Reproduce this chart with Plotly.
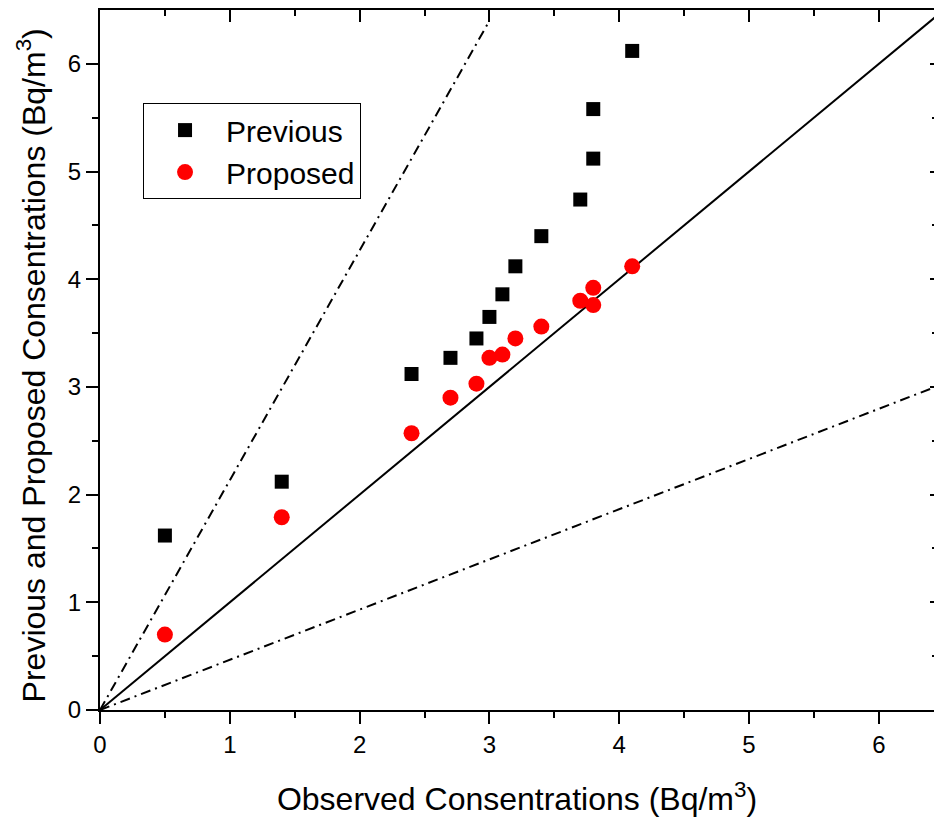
import plotly.graph_objects as go

# Data
observed = [0.5, 1.4, 2.4, 2.7, 2.9, 3.0, 3.1, 3.2, 3.4, 3.7, 3.8, 3.8, 4.1]
previous = [1.62, 2.12, 3.12, 3.27, 3.45, 3.65, 3.86, 4.12, 4.40, 4.74, 5.12, 5.58, 6.12]
observed_p = [0.5, 1.4, 2.4, 2.7, 2.9, 3.0, 3.1, 3.2, 3.4, 3.7, 3.8, 3.8, 4.1]
proposed = [0.70, 1.79, 2.57, 2.90, 3.03, 3.27, 3.30, 3.45, 3.56, 3.80, 3.92, 3.76, 4.12]

# Reference lines (1:1 and the two factor bounds)
line_one_x = [0, 6.5]
line_one_y = [0, 6.5]
line_up_x = [0, 3.0]
line_up_y = [0, 6.4]
line_low_x = [0, 6.5]
line_low_y = [0, 3.03]

X_TITLE = "Observed Consentrations (Bq/m<sup>3</sup>)"
Y_TITLE = "Previous and Proposed Consentrations (Bq/m<sup>3</sup>)"

FONT = "Liberation Sans, Arial, sans-serif"
DASHDOT = "10px,5px,2px,5px"

fig = go.Figure()
fig.add_trace(go.Scatter(x=line_one_x, y=line_one_y, mode="lines",
                         line=dict(color="black", width=2), showlegend=False, hoverinfo="skip"))
fig.add_trace(go.Scatter(x=line_up_x, y=line_up_y, mode="lines",
                         line=dict(color="black", width=2, dash=DASHDOT), showlegend=False, hoverinfo="skip"))
fig.add_trace(go.Scatter(x=line_low_x, y=line_low_y, mode="lines",
                         line=dict(color="black", width=2, dash=DASHDOT), showlegend=False, hoverinfo="skip"))
fig.add_trace(go.Scatter(x=observed, y=previous, mode="markers", name="Previous",
                         marker=dict(symbol="square", size=14, color="black")))
fig.add_trace(go.Scatter(x=observed_p, y=proposed, mode="markers", name="Proposed",
                         marker=dict(symbol="circle", size=16, color="red")))
# invisible trace to activate the mirror axes
fig.add_trace(go.Scatter(x=[0], y=[0], xaxis="x2", yaxis="y2", mode="markers",
                         marker=dict(opacity=0), showlegend=False, hoverinfo="skip"))

tick_font = dict(family=FONT, size=24, color="black")
XR = [0, 6.425]
YR = [0, 6.5]
MAJ = [0, 1, 2, 3, 4, 5, 6]
MIN = [0.5, 1.5, 2.5, 3.5, 4.5, 5.5]

fig.update_layout(
    width=934, height=823,
    margin=dict(l=100, r=0, t=10, b=113),
    paper_bgcolor="white", plot_bgcolor="white",
    font=dict(family=FONT, color="black"),
    xaxis=dict(range=XR, tickmode="array", tickvals=MAJ,
               ticks="outside", ticklen=12, tickwidth=2, tickcolor="black",
               minor=dict(tickvals=MIN, ticks="outside", ticklen=6,
                          tickwidth=2, tickcolor="black", showgrid=False),
               showline=True, linewidth=2, linecolor="black", showgrid=False, zeroline=False,
               tickfont=tick_font,
               title=dict(text=X_TITLE,
                          font=dict(family=FONT, size=32, color="black"), standoff=31)),
    yaxis=dict(range=YR, tickmode="array", tickvals=MAJ,
               ticks="outside", ticklen=12, tickwidth=2, tickcolor="black",
               minor=dict(tickvals=MIN, ticks="outside", ticklen=6,
                          tickwidth=2, tickcolor="black", showgrid=False),
               showline=True, linewidth=2, linecolor="black", showgrid=False, zeroline=False,
               tickfont=tick_font),
    xaxis2=dict(range=XR, overlaying="x", side="top", tickmode="array",
                tickvals=MAJ, ticks="inside", ticklen=12, tickwidth=2,
                tickcolor="black",
                minor=dict(tickvals=MIN, ticks="inside", ticklen=6,
                           tickwidth=2, tickcolor="black", showgrid=False),
                showticklabels=False, showline=True, linewidth=2, linecolor="black",
                showgrid=False, zeroline=False),
    yaxis2=dict(range=YR, overlaying="y", side="right", tickmode="array",
                tickvals=MAJ, ticks="inside", ticklen=4, tickwidth=2,
                tickcolor="black",
                minor=dict(tickvals=MIN, ticks="inside", ticklen=2,
                           tickwidth=2, tickcolor="black", showgrid=False),
                showticklabels=False, showline=False, showgrid=False, zeroline=False),
    legend=dict(x=0.0516, y=0.867, xanchor="left", yanchor="top",
                bgcolor="white", bordercolor="black", borderwidth=1,
                font=dict(family=FONT, size=30, color="black"),
                itemwidth=72, tracegroupgap=0),
    showlegend=True,
    annotations=[dict(text=Y_TITLE, xref="paper", yref="paper", x=-0.083, y=0.492,
                      xanchor="center", yanchor="middle", textangle=-90, showarrow=False,
                      font=dict(family=FONT, size=32, color="black"))],
)

fig.write_html("out.html", config={"displayModeBar": False},
               post_script="document.body.style.margin='0';")
